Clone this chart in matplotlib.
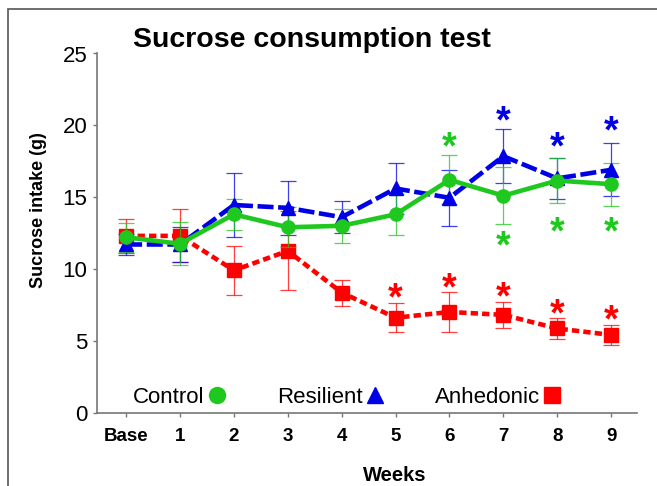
import matplotlib
matplotlib.use("Agg")
import matplotlib.pyplot as plt
from matplotlib.lines import Line2D
from matplotlib.patches import Rectangle
import matplotlib.transforms as mtransforms

plt.rcParams["font.family"] = ["Liberation Sans", "DejaVu Sans"]

weeks = ["Base", "1", "2", "3", "4", "5", "6", "7", "8", "9"]

control = [12.2, 11.75, 13.8, 12.9, 13.0, 13.8, 16.2, 15.1, 16.15, 15.9]
control_err = [1.0, 1.5, 1.1, 1.4, 1.2, 1.45, 1.7, 2.0, 1.55, 1.5]

resilient = [11.7, 11.7, 14.45, 14.25, 13.6, 15.6, 14.95, 17.85, 16.3, 16.9]
resilient_err = [0.7, 1.2, 2.2, 1.9, 1.1, 1.75, 1.95, 1.9, 1.4, 1.85]

anhedonic = [12.3, 12.3, 9.9, 11.25, 8.35, 6.6, 7.0, 6.8, 5.85, 5.4]
anhedonic_err = [1.2, 1.85, 1.7, 2.75, 0.9, 1.0, 1.4, 0.92, 0.75, 0.7]

# significance stars: (week index, height)
stars_control = [(6, 19.0), (7, 12.1), (8, 13.1), (9, 13.1)]
stars_resilient = [(7, 20.8), (8, 19.0), (9, 20.1)]
stars_anhedonic = [(5, 8.5), (6, 9.2), (7, 8.55), (8, 7.4), (9, 7.0)]

green = "#1ec81e"
blue = "#0000e6"
red = "#ff0000"

fig = plt.figure(figsize=(6.57, 4.86), dpi=100)
W, H = 657, 486

# outer frame (cut off at right and bottom)
fig.patches.append(Rectangle((8 / W, -0.1), 1.2, 1 - 9 / H + 0.1,
                             transform=fig.transFigure, fill=False,
                             edgecolor="#555555", linewidth=1.2))

ax = fig.add_axes([97 / W, 1 - 412.5 / H, (637 - 97) / W, (412.5 - 53.5) / H])

x = list(range(len(weeks)))

series = [
    (anhedonic, anhedonic_err, red, "s", (1.6, 0.9), "Anhedonic", 2),
    (resilient, resilient_err, blue, "^", (3.5, 1.0), "Resilient", 3),
    (control, control_err, green, "o", None, "Control", 4),
]

for vals, err, col, mk, dash, name, z in series:
    ax.errorbar(x, vals, yerr=err, fmt="none", ecolor=col, elinewidth=0.9,
                capsize=6, capthick=0.9, alpha=0.75, zorder=z - 1)
    ln, = ax.plot(x, vals, color=col, marker=mk, markersize=9.5,
                  linewidth=3.3, zorder=z + 1, solid_capstyle="butt",
                  dash_capstyle="butt")
    if dash is not None:
        ln.set_dashes(dash)

star_off = mtransforms.ScaledTranslation(0, -6.5 / 72, fig.dpi_scale_trans)
for stars, col in [(stars_control, green), (stars_resilient, blue),
                   (stars_anhedonic, red)]:
    for i, h in stars:
        ax.text(i, h, "*", color=col, fontsize=27, fontweight="bold",
                ha="center", va="center",
                transform=ax.transData + star_off, zorder=6)

ax.set_xlim(-0.54, 9.48)
ax.set_ylim(0, 25)
ax.set_yticks([0, 5, 10, 15, 20, 25])
ax.set_xticks(x)
ax.set_xticklabels(weeks, fontweight="bold", fontsize=13.5)
ax.tick_params(axis="y", labelsize=16, length=3, width=1, color="#777777",
               pad=4)
ax.tick_params(axis="x", length=3, width=1, color="#777777", pad=8)

for s in ["top", "right"]:
    ax.spines[s].set_visible(False)
for s in ["left", "bottom"]:
    ax.spines[s].set_color("#777777")
    ax.spines[s].set_linewidth(1.2)

fig.text(133 / W, 1 - 47 / H, "Sucrose consumption test", fontsize=20.5,
         fontweight="bold", ha="left", va="baseline")
fig.text(39 / W, 1 - 210 / H, "Sucrose intake (g)", fontsize=13,
         fontweight="bold", rotation=90, ha="center", va="center")
fig.text(395 / W, 1 - 475 / H, "Weeks", fontsize=14.5, fontweight="bold",
         ha="center", va="center")

handles = [
    Line2D([], [], color=green, marker="o", linestyle="none", markersize=11.5),
    Line2D([], [], color=blue, marker="^", linestyle="none", markersize=11.5),
    Line2D([], [], color=red, marker="s", linestyle="none", markersize=11),
]
ax.legend(handles, ["Control", "Resilient", "Anhedonic"], ncol=3,
          loc="center left", bbox_to_anchor=((133 - 97) / 540, 15 / 359),
          frameon=False, markerfirst=False, handlelength=1.0,
          handletextpad=0.05, columnspacing=2.2, fontsize=16, borderpad=0,
          borderaxespad=0)

fig.savefig("out.png", dpi=100)
